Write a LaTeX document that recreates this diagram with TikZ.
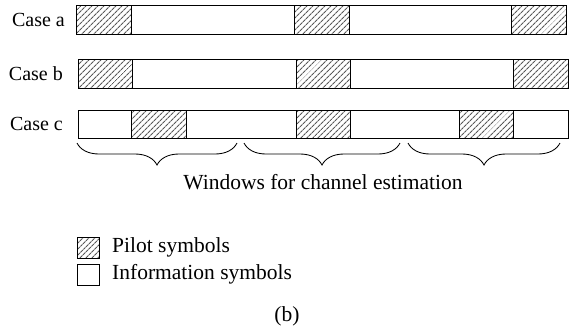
\documentclass[tikz,border=0pt]{standalone}
\usepackage{fontspec}
\setmainfont{Liberation Serif}
\usetikzlibrary{patterns.meta,decorations.pathreplacing}
\begin{document}
\begin{tikzpicture}[x=1pt,y=-1pt,
  cell/.style={draw=black,line width=0.9pt},
  pilotcell/.style={cell,pattern={Lines[angle=45,distance=4pt,line width=1.1pt]},pattern color=black!65},
  infocell/.style={cell,fill=white},
  lbl/.style={font=\fontsize{20}{22}\selectfont,inner sep=0pt},
  txt/.style={font=\fontsize{21.5}{24}\selectfont,inner sep=0pt},
  winbrace/.style={decorate,decoration={brace,mirror,amplitude=22pt},line width=0.85pt}
]
\useasboundingbox (0,0) rectangle (578,333);

% Case a: pilots at both ends and in the middle
\node[lbl,anchor=east] (la) at (65,19.5) {Case a};
\draw[pilotcell] (76,5) rectangle (131,34);
\draw[infocell]  (131,5) rectangle (294,34);
\draw[pilotcell] (294,5) rectangle (349,34);
\draw[infocell]  (349,5) rectangle (511,34);
\draw[pilotcell] (511,5) rectangle (566,34);

% Case b
\node[lbl,anchor=east] (lb) at (63,73.5) {Case b};
\draw[pilotcell] (78,59) rectangle (132,88);
\draw[infocell]  (132,59) rectangle (296,88);
\draw[pilotcell] (296,59) rectangle (350,88);
\draw[infocell]  (350,59) rectangle (513,88);
\draw[pilotcell] (513,59) rectangle (568,88);

% Case c: pilots centred in each estimation window
\node[lbl,anchor=east] (lc) at (63,124) {Case c};
\draw[infocell]  (78,110) rectangle (131,138);
\draw[pilotcell] (131,110) rectangle (186,138);
\draw[infocell]  (186,110) rectangle (296,138);
\draw[pilotcell] (296,110) rectangle (350,138);
\draw[infocell]  (350,110) rectangle (459,138);
\draw[pilotcell] (459,110) rectangle (513,138);
\draw[infocell]  (513,110) rectangle (568,138);

% estimation windows
\coordinate (w1a) at (77,143);  \coordinate (w1b) at (237,143);
\coordinate (w2a) at (244,143); \coordinate (w2b) at (400,143);
\coordinate (w3a) at (408,143); \coordinate (w3b) at (560,143);
\draw[winbrace] (w1a) -- (w1b);
\draw[winbrace] (w2a) -- (w2b);
\draw[winbrace] (w3a) -- (w3b);
\node[txt] (wtxt) at (323,182) {Windows for channel estimation};

% legend
\draw[pilotcell] (77,237) rectangle (99,258);
\node[txt,anchor=west] (lp) at (112,247.5) {Pilot symbols};
\draw[infocell] (77,264) rectangle (99,285);
\node[txt,anchor=west] (li) at (112,274.5) {Information symbols};

\node[txt] (cap) at (287,316) {(b)};
\end{tikzpicture}
\end{document}
